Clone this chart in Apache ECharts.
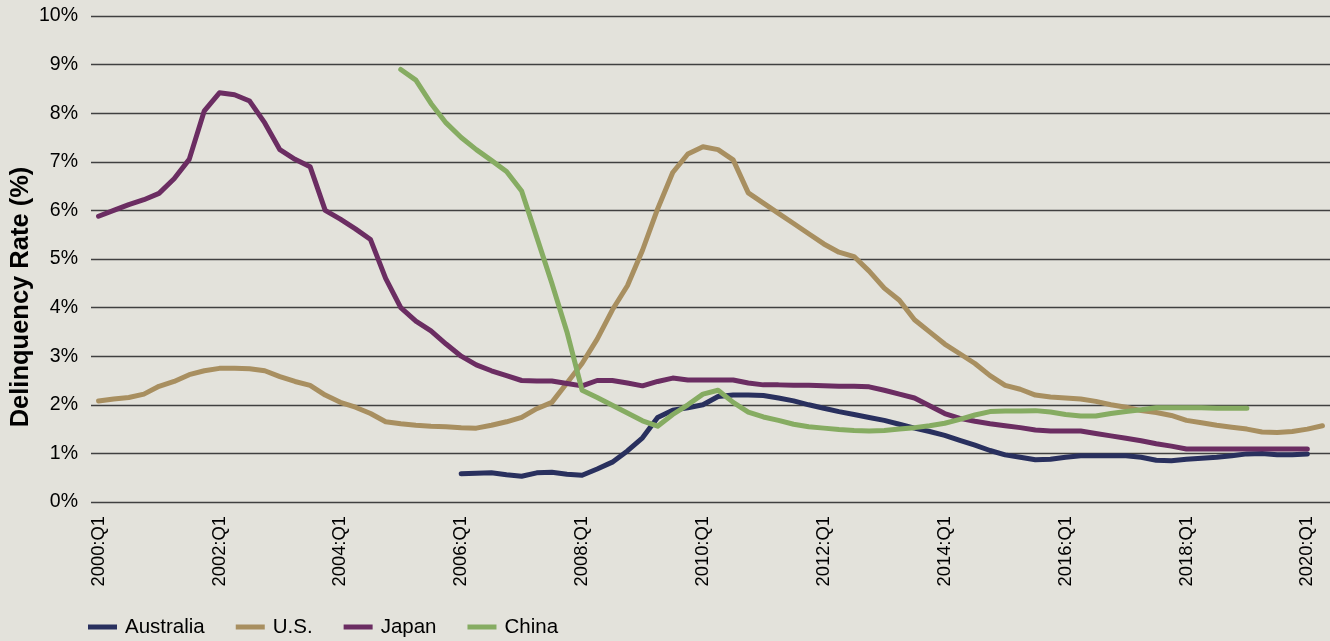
<!DOCTYPE html>
<html>
<head>
<meta charset="utf-8">
<script src="https://cdn.jsdelivr.net/npm/echarts@6/dist/echarts.min.js"></script>
<style>
  html, body { margin: 0; padding: 0; background: #e3e2db; }
  #chart { width: 1330px; height: 641px; }
</style>
</head>
<body>
<div id="chart"></div>
<script>
// quarters 2000:Q1 .. 2020:Q2
const quarters = []
for (let y = 2000; y <= 2020; y++) {
  for (let q = 1; q <= 4; q++) {
    if (y === 2020 && q > 2) break
    quarters.push(y + ':Q' + q)
  }
}

const australia = [
  null, null, null, null, null, null, null, null, null, null,
  null, null, null, null, null, null, null, null, null, null,
  null, null, null, null, 0.58, 0.59, 0.6, 0.56, 0.53, 0.6,
  0.61, 0.57, 0.55, 0.68, 0.82, 1.05, 1.32, 1.74, 1.89, 1.94,
  2.0, 2.17, 2.2, 2.2, 2.19, 2.14, 2.08, 2.0, 1.93, 1.86,
  1.8, 1.74, 1.68, 1.6, 1.52, 1.45, 1.37, 1.27, 1.17, 1.06,
  0.97, 0.92, 0.87, 0.88, 0.92, 0.95, 0.95, 0.95, 0.95, 0.92,
  0.86, 0.85, 0.88, 0.9, 0.92, 0.95, 0.99, 1.0, 0.97, 0.97,
  0.99, null
]

const us = [
  2.08, 2.12, 2.15, 2.22, 2.38, 2.48, 2.62, 2.7, 2.75, 2.75,
  2.74, 2.7, 2.58, 2.48, 2.4, 2.2, 2.05, 1.95, 1.82, 1.65,
  1.61, 1.58, 1.56, 1.55, 1.53, 1.52, 1.58, 1.65, 1.74, 1.92,
  2.05, 2.45, 2.85, 3.35, 3.95, 4.45, 5.18, 6.03, 6.78, 7.16,
  7.31, 7.25, 7.04, 6.36, 6.15, 5.94, 5.73, 5.52, 5.31, 5.14,
  5.05, 4.75, 4.4, 4.15, 3.75, 3.5, 3.25, 3.05, 2.85, 2.6,
  2.4, 2.32, 2.2, 2.16, 2.14, 2.12, 2.07, 2.0, 1.95, 1.88,
  1.84, 1.78, 1.68, 1.63, 1.58, 1.54, 1.5, 1.44, 1.43, 1.45,
  1.5, 1.57
]

const japan = [
  5.88, 6.0, 6.12, 6.22, 6.35, 6.65, 7.05, 8.05, 8.42, 8.38,
  8.25, 7.8, 7.25, 7.05, 6.9, 6.0, 5.82, 5.62, 5.4, 4.6,
  4.0, 3.72, 3.52, 3.25, 3.0, 2.82, 2.7, 2.6, 2.5, 2.49,
  2.49, 2.44, 2.39, 2.5, 2.5, 2.45, 2.39, 2.48, 2.55, 2.51,
  2.51, 2.51, 2.51, 2.45, 2.41, 2.41, 2.4, 2.4, 2.39, 2.38,
  2.38, 2.37, 2.3, 2.22, 2.14, 1.98, 1.82, 1.72, 1.66, 1.61,
  1.57, 1.53, 1.48, 1.46, 1.46, 1.46, 1.41, 1.36, 1.31, 1.26,
  1.2, 1.15, 1.09, 1.09, 1.09, 1.09, 1.09, 1.09, 1.09, 1.09,
  1.09, null
]

const china = [
  null, null, null, null, null, null, null, null, null, null,
  null, null, null, null, null, null, null, null, null, null,
  8.9, 8.68, 8.2, 7.8, 7.5, 7.25, 7.03, 6.8, 6.4, 5.45,
  4.5, 3.5, 2.3, 2.15, 1.99, 1.83, 1.67, 1.56, 1.8, 2.0,
  2.22, 2.3, 2.05, 1.85, 1.75, 1.68, 1.6, 1.55, 1.52, 1.49,
  1.47, 1.46, 1.47, 1.5, 1.53, 1.57, 1.62, 1.7, 1.79, 1.86,
  1.87, 1.87, 1.88, 1.85, 1.8, 1.77, 1.77, 1.82, 1.86, 1.9,
  1.94, 1.94, 1.94, 1.94, 1.93, 1.93, 1.93, null, null, null,
  null, null
]

const seriesList = [
  { name: 'Australia', data: australia, color: '#29305e' },
  { name: 'U.S.', data: us, color: '#a88f60' },
  { name: 'Japan', data: japan, color: '#6b2d62' },
  { name: 'China', data: china, color: '#86ac62' },
]

const font = '"Liberation Sans", Arial, sans-serif'
const chart = echarts.init(document.getElementById('chart'))

chart.setOption({
  backgroundColor: '#e3e2db',
  animation: false,
  textStyle: { fontFamily: font, color: '#000' },
  grid: { left: 91, top: 16, width: 1246, height: 486 },
  legend: {
    left: 88,
    top: 616,
    padding: 0,
    itemWidth: 29,
    itemHeight: 5,
    itemGap: 31,
    icon: 'rect',
    textStyle: { fontSize: 20.5, color: '#000', padding: [0, 0, 0, 3], lineHeight: 22 },
    data: seriesList.map(s => ({ name: s.name, itemStyle: { color: s.color } })),
  },
  xAxis: {
    type: 'category',
    data: quarters,
    boundaryGap: true,
    axisLine: { show: false },
    axisTick: { show: false },
    axisLabel: { interval: 7, rotate: 90, fontSize: 18.4, color: '#000', margin: 14 },
  },
  yAxis: {
    type: 'value',
    min: 0,
    max: 10,
    interval: 1,
    axisLine: { show: false },
    axisTick: { show: false },
    axisLabel: { formatter: '{value}%', fontSize: 19.5, color: '#000', margin: 13 },
    splitLine: { lineStyle: { color: '#404040', width: 1.3 } },
  },
  graphic: [{
    type: 'text',
    x: 21,
    y: 297,
    rotation: Math.PI / 2,
    style: {
      text: 'Delinquency Rate (%)',
      font: 'bold 25.5px ' + font,
      fill: '#000',
      align: 'center',
      verticalAlign: 'middle',
      textAlign: 'center',
      textVerticalAlign: 'middle',
    },
  }],
  series: seriesList.map(s => ({
    name: s.name,
    type: 'line',
    data: s.data,
    showSymbol: false,
    symbol: 'none',
    connectNulls: false,
    color: s.color,
    lineStyle: { color: s.color, width: 5, cap: 'round', join: 'round' },
  })),
})
</script>
</body>
</html>
